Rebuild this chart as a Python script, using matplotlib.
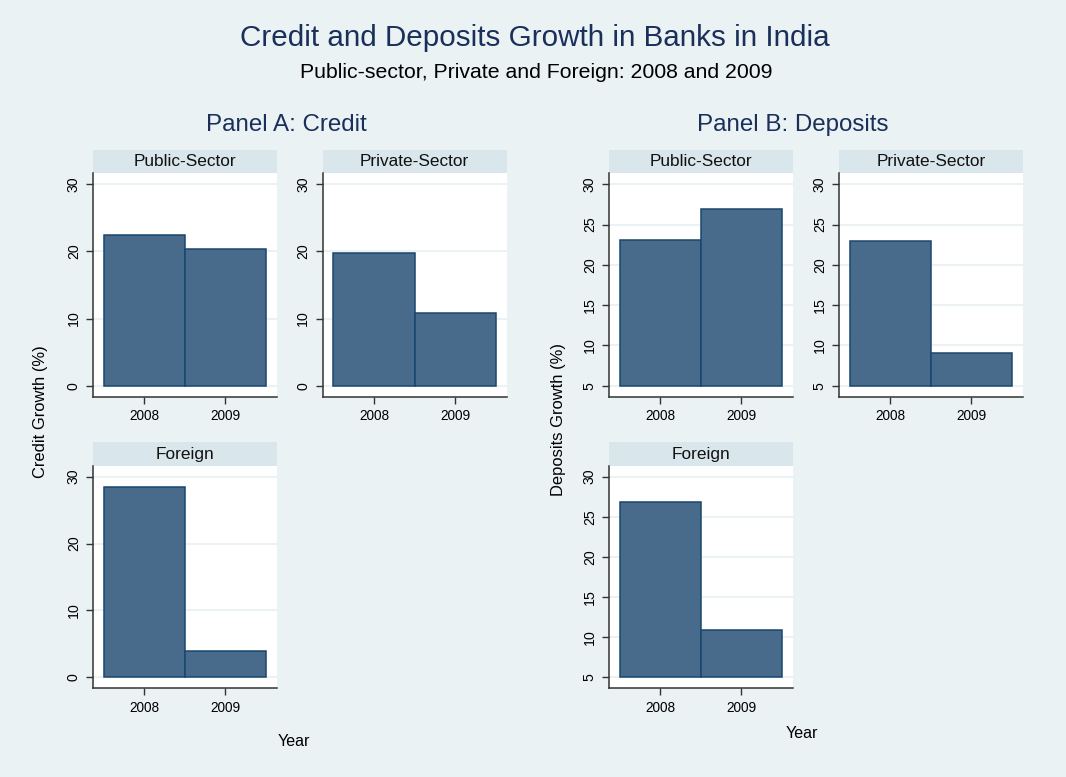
import matplotlib

matplotlib.use("Agg")
import matplotlib.pyplot as plt
import numpy as np

plt.rcParams["font.family"] = ["Liberation Sans", "DejaVu Sans"]

# data
years = [2008, 2009]
sectors = ["Public-Sector", "Private-Sector", "Foreign"]
credit_public = [22.4, 20.3]
credit_private = [19.8, 10.9]
credit_foreign = [28.4, 4.0]
deposits_public = [23.1, 26.9]
deposits_private = [22.9, 9.1]
deposits_foreign = [26.8, 10.9]
credit_ticks = [0, 10, 20, 30]
deposits_ticks = [5, 10, 15, 20, 25, 30]

BG = "#eaf2f3"
STRIP = "#d9e6eb"
BAR = "#486a8b"
EDGE = "#1a476f"
TITLE = "#1a2f5a"
W, H = 1066, 777


def px_axes(fig, x0, y0, x1, y1):
    # pixel box (top-left origin) -> figure axes
    return fig.add_axes([x0 / W, 1 - y1 / H, (x1 - x0) / W, (y1 - y0) / H])


def panel(fig, box, title, vals, ticks, base, ylim):
    x0, y0, x1, y1 = box
    st = px_axes(fig, x0, y0 - 23.3, x1, y0)
    st.set_facecolor(STRIP)
    st.set_xticks([]); st.set_yticks([])
    for s in st.spines.values():
        s.set_visible(False)
    st.text(0.5, 0.5, title, ha="center", va="center", fontsize=12.4, color="#111111")

    ax = px_axes(fig, x0, y0, x1, y1)
    ax.set_facecolor("white")
    ax.bar(years, np.array(vals) - base, width=1.0, bottom=base,
           color=BAR, edgecolor=EDGE, linewidth=1.1, zorder=3)
    ax.set_xlim(2007.368, 2009.636)
    ax.set_ylim(*ylim)
    ax.set_xticks(years)
    ax.set_xticklabels([str(y) for y in years], fontsize=9.8)
    ax.set_yticks(ticks)
    ax.set_yticklabels([str(t) for t in ticks], fontsize=10.2, rotation=90, va="center")
    ax.grid(axis="y", color=BG, lw=1.5, zorder=0)
    ax.tick_params(direction="out", length=5, width=1, color="#333333", pad=4)
    for s in ["top", "right"]:
        ax.spines[s].set_visible(False)
    for s in ["left", "bottom"]:
        ax.spines[s].set_color("#333333")
        ax.spines[s].set_linewidth(1.1)
    return ax


fig = plt.figure(figsize=(W / 100, H / 100), dpi=100, facecolor=BG)

top_row = (173.3, 396.7)
bot_row = (465.7, 688.3)
colA = [(93.3, 276.7), (322.7, 506.7)]
colB = [(609.3, 792.7), (839.3, 1022.7)]

ylimA = (-1.64, 31.64)
ylimB = (3.64, 31.36)

panel(fig, (colA[0][0], top_row[0], colA[0][1], top_row[1]), sectors[0], credit_public, credit_ticks, 0, ylimA)
panel(fig, (colA[1][0], top_row[0], colA[1][1], top_row[1]), sectors[1], credit_private, credit_ticks, 0, ylimA)
panel(fig, (colA[0][0], bot_row[0], colA[0][1], bot_row[1]), sectors[2], credit_foreign, credit_ticks, 0, ylimA)

panel(fig, (colB[0][0], top_row[0], colB[0][1], top_row[1]), sectors[0], deposits_public, deposits_ticks, 5, ylimB)
panel(fig, (colB[1][0], top_row[0], colB[1][1], top_row[1]), sectors[1], deposits_private, deposits_ticks, 5, ylimB)
panel(fig, (colB[0][0], bot_row[0], colB[0][1], bot_row[1]), sectors[2], deposits_foreign, deposits_ticks, 5, ylimB)

fig.text(535 / W, 1 - 38 / H, "Credit and Deposits Growth in Banks in India",
         ha="center", va="center", fontsize=21.3, color=TITLE)
fig.text(536 / W, 1 - 72 / H, "Public-sector, Private and Foreign: 2008 and 2009",
         ha="center", va="center", fontsize=15.3, color="black")
fig.text(286 / W, 1 - 125 / H, "Panel A: Credit", ha="center", va="center",
         fontsize=17.4, color=TITLE)
fig.text(793 / W, 1 - 125 / H, "Panel B: Deposits", ha="center", va="center",
         fontsize=17.4, color=TITLE)

fig.text(40 / W, 1 - 412 / H, "Credit Growth (%)", rotation=90, ha="center",
         va="center", fontsize=11.9, color="black")
fig.text(558 / W, 1 - 420 / H, "Deposits Growth (%)", rotation=90, ha="center",
         va="center", fontsize=11.9, color="black")
fig.text(294 / W, 1 - 741 / H, "Year", ha="center", va="center", fontsize=11.6)
fig.text(802 / W, 1 - 733 / H, "Year", ha="center", va="center", fontsize=11.6)

fig.savefig("out.png", dpi=100, facecolor=BG)
